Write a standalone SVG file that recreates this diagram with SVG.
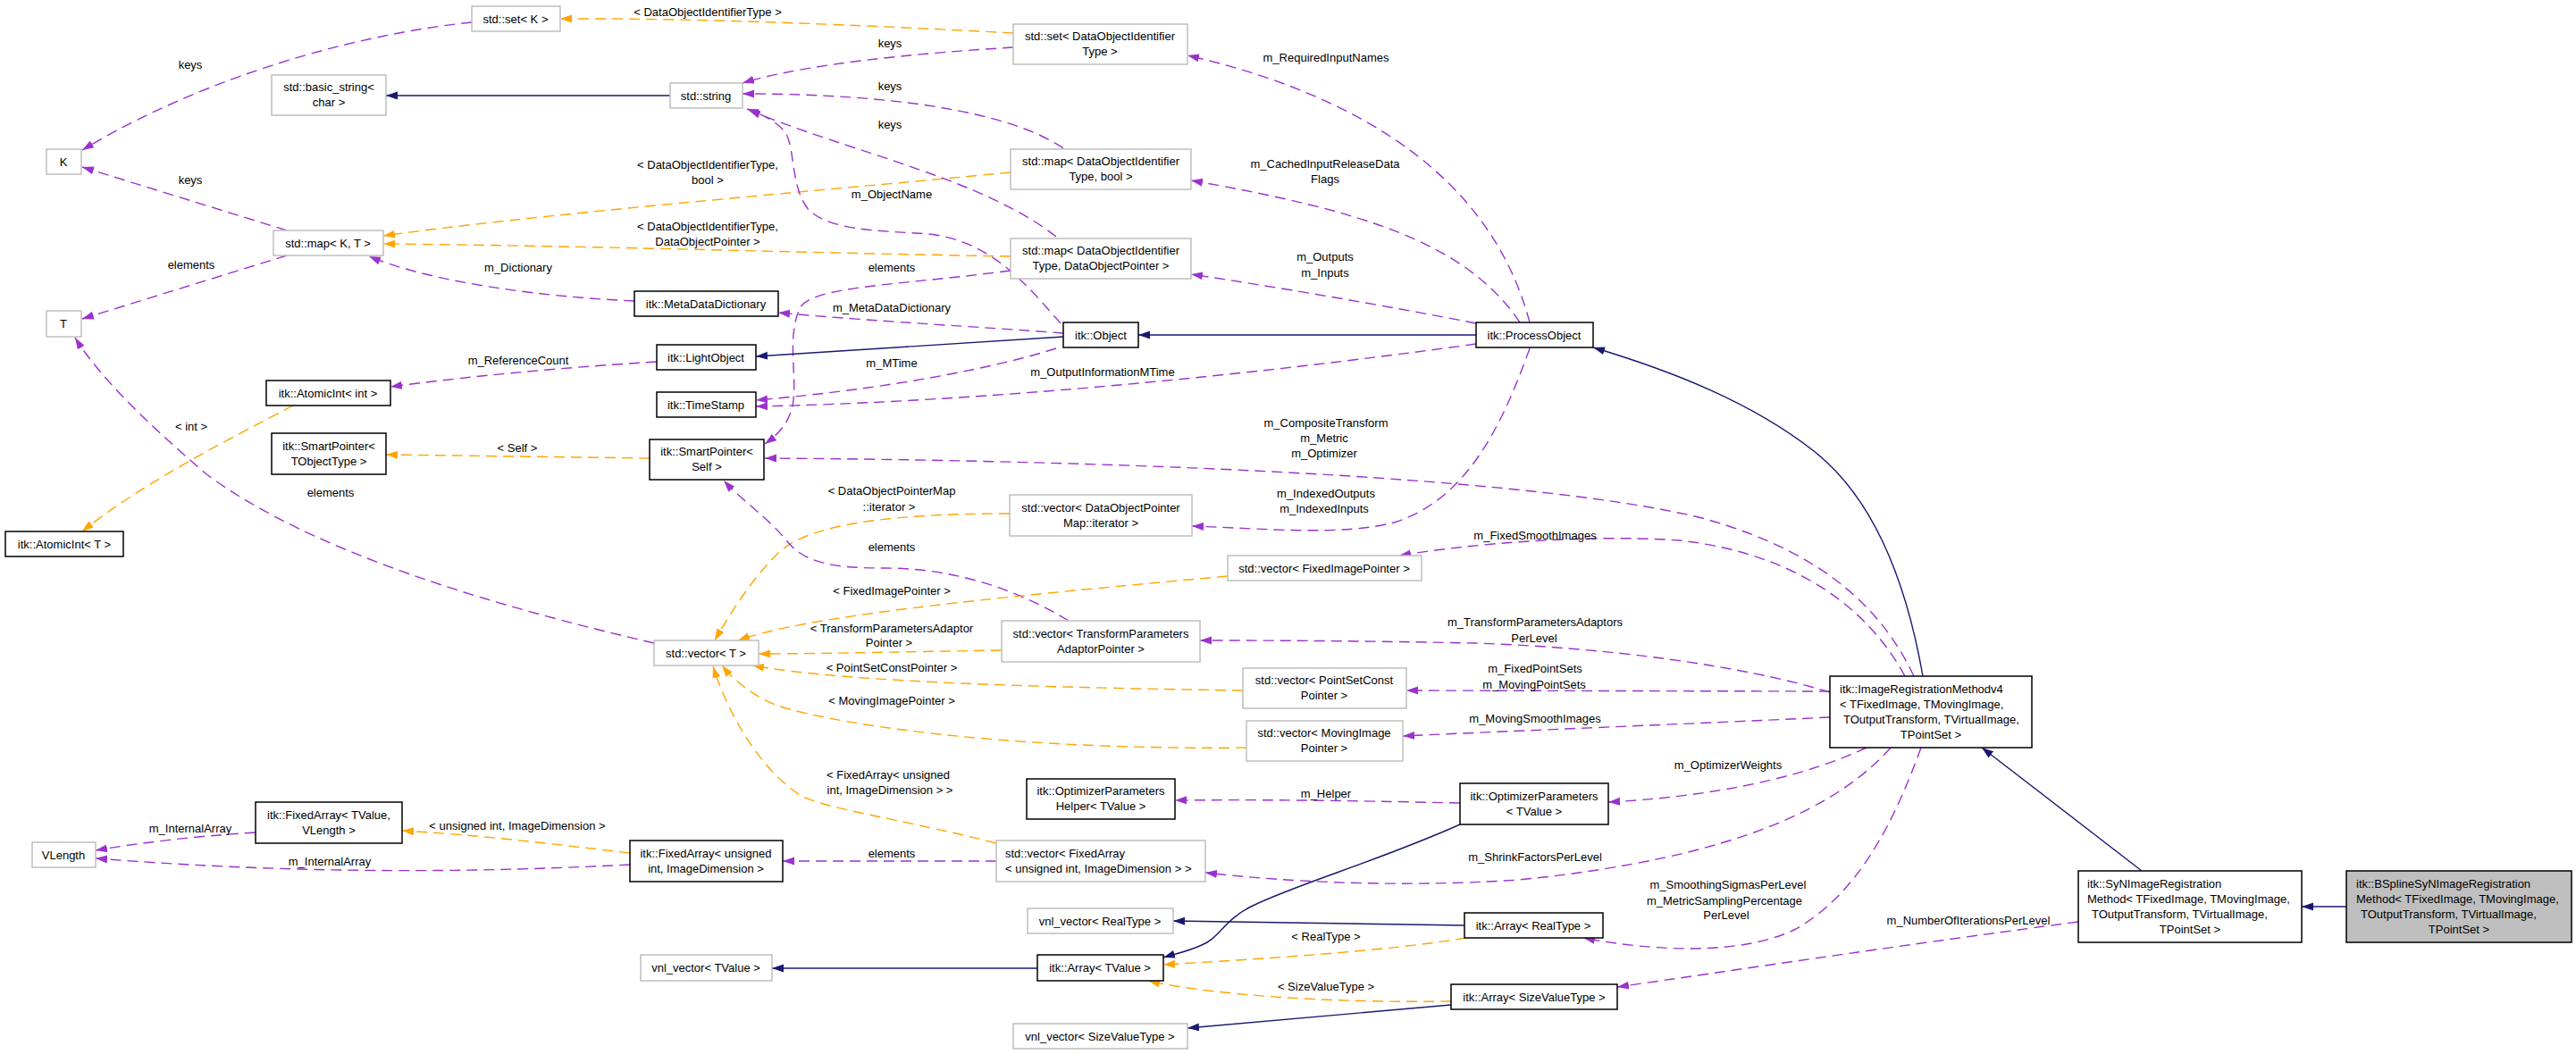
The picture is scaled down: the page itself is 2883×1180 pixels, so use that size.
<svg xmlns="http://www.w3.org/2000/svg" width="2883" height="1180" viewBox="0 0 2883 1180">
<style>
text{font-family:"Liberation Sans",Arial,Helvetica,sans-serif;font-size:13px;fill:#000}
.m{text-anchor:middle}
.s{text-anchor:start}
.n rect{fill:#fff;stroke:#000;stroke-width:1.5}
.g rect{fill:#fff;stroke:#bfbfbf;stroke-width:1.5}
.h rect{fill:#bfbfbf;stroke:#000;stroke-width:1.5}
#edges path{fill:none;stroke-width:1.4}
#edges .u{stroke:#9a32cd;stroke-dasharray:12,7;marker-end:url(#au)}
#edges .t{stroke:#ffa500;stroke-dasharray:12,7;marker-end:url(#at)}
#edges .i{stroke:#191970;marker-end:url(#ai)}
</style>
<defs>
<marker id="au" markerUnits="userSpaceOnUse" markerWidth="14" markerHeight="10" viewBox="0 0 14 10" refX="13" refY="5" orient="auto"><path d="M0,0.5 L13,5 L0,9.5 z" fill="#9a32cd" stroke="none"/></marker>
<marker id="at" markerUnits="userSpaceOnUse" markerWidth="14" markerHeight="10" viewBox="0 0 14 10" refX="13" refY="5" orient="auto"><path d="M0,0.5 L13,5 L0,9.5 z" fill="#ffa500" stroke="none"/></marker>
<marker id="ai" markerUnits="userSpaceOnUse" markerWidth="14" markerHeight="10" viewBox="0 0 14 10" refX="13" refY="5" orient="auto"><path d="M0,0.5 L13,5 L0,9.5 z" fill="#191970" stroke="none"/></marker>
</defs>
<rect width="2883" height="1180" fill="#fff"/>
<g id="edges">
<path class="u" d="M528,25 C400,38 230,85 92,168"/>
<path class="t" d="M1134,37 C1000,30 800,20 627,21"/>
<path class="u" d="M1134,53 C1020,60 900,72 831,93"/>
<path class="i" d="M750,107 L432,107"/>
<path class="u" d="M321,258 L92,187"/>
<path class="u" d="M321,286 L92,357"/>
<path class="t" d="M1131,193 C900,215 600,240 429,264"/>
<path class="t" d="M1131,287 C900,283 650,275 429,273"/>
<path class="u" d="M1190,166 C1130,125 1000,105 831,105"/>
<path class="u" d="M1182,265 C1100,200 950,170 838,123"/>
<path class="u" d="M1187,362 C1150,320 1110,270 1040,262 C980,258 930,258 905,235 C885,210 890,170 880,150 C870,135 850,127 836,122"/>
<path class="u" d="M1131,303 C1000,320 910,320 895,345 C880,380 893,420 887,455 C882,475 870,487 856,497"/>
<path class="u" d="M710,337 C600,332 480,315 413,287"/>
<path class="u" d="M1190,373 C1100,366 980,360 871,350"/>
<path class="i" d="M1190,377 L846,399"/>
<path class="u" d="M735,405 C620,412 520,422 437,433"/>
<path class="u" d="M1182,390 C1120,410 1000,435 846,448"/>
<path class="u" d="M1652,385 C1400,420 1100,450 846,455"/>
<path class="i" d="M1652,375 L1274,375"/>
<path class="u" d="M1712,361 C1680,240 1580,120 1329,62"/>
<path class="u" d="M1701,361 C1640,270 1520,235 1333,202"/>
<path class="u" d="M1652,362 C1550,342 1420,320 1333,307"/>
<path class="u" d="M1712,390 C1680,480 1640,560 1560,585 C1500,600 1420,592 1334,589"/>
<path class="t" d="M328,454 C260,490 160,540 92,595"/>
<path class="t" d="M727,513 L432,509"/>
<path class="u" d="M732,720 C560,680 350,620 230,530 C160,470 110,420 84,378"/>
<path class="u" d="M2142,757 C2110,690 2050,620 1905,580 C1700,530 1200,515 856,513"/>
<path class="t" d="M1130,575 C980,575 900,590 870,620 C840,650 815,690 800,717"/>
<path class="u" d="M1196,695 C1130,655 1060,636 990,636 C930,636 900,630 880,605 C860,580 830,560 810,538"/>
<path class="t" d="M1374,645 C1100,670 900,690 826,717"/>
<path class="t" d="M1121,728 C1000,730 900,732 849,732"/>
<path class="t" d="M1391,773 C1200,770 950,765 842,745"/>
<path class="t" d="M1395,837 C1150,840 950,815 870,790 C840,778 820,760 808,745"/>
<path class="t" d="M1115,944 C1000,915 920,905 895,890 C850,860 815,800 798,746"/>
<path class="u" d="M2132,757 C2090,680 2010,620 1880,605 C1780,598 1650,608 1566,622"/>
<path class="u" d="M2048,775 C1950,745 1800,725 1650,720 C1500,717 1400,717 1343,717"/>
<path class="u" d="M2048,774 L1574,773"/>
<path class="u" d="M2048,803 C1900,810 1700,818 1570,824"/>
<path class="u" d="M2089,837 C2040,860 1950,890 1800,898"/>
<path class="u" d="M2116,837 C2060,900 1950,960 1700,985 C1550,995 1420,985 1349,977"/>
<path class="u" d="M2150,837 C2120,920 2080,1000 2010,1040 C1950,1070 1850,1065 1772,1050"/>
<path class="u" d="M2326,1032 C2100,1062 1950,1085 1810,1105"/>
<path class="u" d="M1634,899 C1500,896 1400,895 1315,896"/>
<path class="i" d="M1634,923 C1540,965 1450,990 1400,1015 C1370,1030 1365,1050 1345,1058 C1330,1065 1315,1068 1302,1072"/>
<path class="i" d="M1639,1036 L1313,1031"/>
<path class="t" d="M1641,1050 C1550,1065 1420,1073 1302,1080"/>
<path class="t" d="M1624,1121 C1500,1123 1360,1115 1285,1098"/>
<path class="i" d="M1624,1125 L1329,1151"/>
<path class="i" d="M1161,1084 L864,1084"/>
<path class="t" d="M705,955 C620,945 540,935 450,930"/>
<path class="u" d="M286,932 C220,936 160,943 107,952"/>
<path class="u" d="M705,968 C550,976 350,980 107,961"/>
<path class="u" d="M1115,964 L876,964"/>
<path class="i" d="M2152,757 C2135,660 2100,560 2030,505 C1960,450 1870,415 1783,389"/>
<path class="i" d="M2397,975 L2218,837"/>
<path class="i" d="M2626,1015 L2576,1015"/>
<g class="m">
<text x="213" y="77">keys</text>
<text x="792" y="18">&lt; DataObjectIdentifierType &gt;</text>
<text x="996" y="53">keys</text>
<text x="996" y="101">keys</text>
<text x="996" y="144">keys</text>
<text x="213" y="206">keys</text>
<text x="214" y="301">elements</text>
<text x="792" y="189">&lt; DataObjectIdentifierType,</text>
<text x="792" y="206">bool &gt;</text>
<text x="998" y="222">m_ObjectName</text>
<text x="792" y="258">&lt; DataObjectIdentifierType,</text>
<text x="792" y="275">DataObjectPointer &gt;</text>
<text x="998" y="304">elements</text>
<text x="580" y="304">m_Dictionary</text>
<text x="998" y="349">m_MetaDataDictionary</text>
<text x="1484" y="69">m_RequiredInputNames</text>
<text x="1483" y="188">m_CachedInputReleaseData</text>
<text x="1483" y="205">Flags</text>
<text x="1483" y="292">m_Outputs</text>
<text x="1483" y="310">m_Inputs</text>
<text x="580" y="408">m_ReferenceCount</text>
<text x="998" y="411">m_MTime</text>
<text x="1234" y="421">m_OutputInformationMTime</text>
<text x="214" y="482">&lt; int &gt;</text>
<text x="579" y="506">&lt; Self &gt;</text>
<text x="370" y="556">elements</text>
<text x="1484" y="478">m_CompositeTransform</text>
<text x="1482" y="495">m_Metric</text>
<text x="1482" y="512">m_Optimizer</text>
<text x="998" y="554">&lt; DataObjectPointerMap</text>
<text x="995" y="572">::iterator &gt;</text>
<text x="1484" y="557">m_IndexedOutputs</text>
<text x="1482" y="574">m_IndexedInputs</text>
<text x="1718" y="604">m_FixedSmoothImages</text>
<text x="998" y="617">elements</text>
<text x="998" y="666">&lt; FixedImagePointer &gt;</text>
<text x="998" y="708">&lt; TransformParametersAdaptor</text>
<text x="995" y="724">Pointer &gt;</text>
<text x="1718" y="701">m_TransformParametersAdaptors</text>
<text x="1717" y="719">PerLevel</text>
<text x="998" y="752">&lt; PointSetConstPointer &gt;</text>
<text x="1718" y="753">m_FixedPointSets</text>
<text x="1717" y="771">m_MovingPointSets</text>
<text x="998" y="789">&lt; MovingImagePointer &gt;</text>
<text x="1718" y="809">m_MovingSmoothImages</text>
<text x="1934" y="861">m_OptimizerWeights</text>
<text x="994" y="872">&lt; FixedArray&lt; unsigned</text>
<text x="996" y="889">int, ImageDimension &gt; &gt;</text>
<text x="1484" y="893">m_Helper</text>
<text x="579" y="929">&lt; unsigned int, ImageDimension &gt;</text>
<text x="213" y="932">m_InternalArray</text>
<text x="998" y="960">elements</text>
<text x="1718" y="964">m_ShrinkFactorsPerLevel</text>
<text x="369" y="969">m_InternalArray</text>
<text x="1934" y="995">m_SmoothingSigmasPerLevel</text>
<text x="1930" y="1013">m_MetricSamplingPercentage</text>
<text x="1932" y="1029">PerLevel</text>
<text x="2203" y="1035">m_NumberOfIterationsPerLevel</text>
<text x="1484" y="1053">&lt; RealType &gt;</text>
<text x="1484" y="1109">&lt; SizeValueType &gt;</text>
</g>
</g>
<g id="n_setK" class="g"><rect x="528" y="7" width="99" height="28"/><text class="m" x="577" y="26">std::set&lt; K &gt;</text></g>
<g id="n_basic_string" class="g"><rect x="304" y="84" width="128" height="45"/><text class="m" x="368" y="102">std::basic_string&lt;</text><text class="m" x="368" y="119">char &gt;</text></g>
<g id="n_K" class="g"><rect x="52" y="167" width="39" height="28"/><text class="m" x="71" y="186">K</text></g>
<g id="n_mapKT" class="g"><rect x="306" y="258" width="123" height="28"/><text class="m" x="367" y="277">std::map&lt; K, T &gt;</text></g>
<g id="n_T" class="g"><rect x="52" y="348" width="39" height="29"/><text class="m" x="71" y="367">T</text></g>
<g id="n_setDOIT" class="g"><rect x="1134" y="27" width="195" height="45"/><text class="m" x="1231" y="45">std::set&lt; DataObjectIdentifier</text><text class="m" x="1231" y="62">Type &gt;</text></g>
<g id="n_string" class="g"><rect x="750" y="93" width="81" height="28"/><text class="m" x="790" y="112">std::string</text></g>
<g id="n_mapBool" class="g"><rect x="1131" y="167" width="202" height="45"/><text class="m" x="1232" y="185">std::map&lt; DataObjectIdentifier</text><text class="m" x="1232" y="202">Type, bool &gt;</text></g>
<g id="n_mapDOP" class="g"><rect x="1131" y="267" width="202" height="45"/><text class="m" x="1232" y="285">std::map&lt; DataObjectIdentifier</text><text class="m" x="1232" y="302">Type, DataObjectPointer &gt;</text></g>
<g id="n_MetaDataDictionary" class="n"><rect x="710" y="326" width="161" height="28"/><text class="m" x="790" y="345">itk::MetaDataDictionary</text></g>
<g id="n_Object" class="n"><rect x="1190" y="361" width="84" height="28"/><text class="m" x="1232" y="380">itk::Object</text></g>
<g id="n_LightObject" class="n"><rect x="735" y="386" width="111" height="28"/><text class="m" x="790" y="405">itk::LightObject</text></g>
<g id="n_ProcessObject" class="n"><rect x="1652" y="361" width="131" height="28"/><text class="m" x="1717" y="380">itk::ProcessObject</text></g>
<g id="n_AtomicIntInt" class="n"><rect x="298" y="426" width="139" height="28"/><text class="m" x="367" y="445">itk::AtomicInt&lt; int &gt;</text></g>
<g id="n_SmartPointerT" class="n"><rect x="304" y="485" width="128" height="46"/><text class="m" x="368" y="504">itk::SmartPointer&lt;</text><text class="m" x="368" y="521">TObjectType &gt;</text></g>
<g id="n_AtomicIntT" class="n"><rect x="6" y="595" width="132" height="28"/><text class="m" x="72" y="614">itk::AtomicInt&lt; T &gt;</text></g>
<g id="n_TimeStamp" class="n"><rect x="735" y="439" width="111" height="28"/><text class="m" x="790" y="458">itk::TimeStamp</text></g>
<g id="n_SmartPointerSelf" class="n"><rect x="727" y="492" width="128" height="45"/><text class="m" x="791" y="510">itk::SmartPointer&lt;</text><text class="m" x="791" y="527">Self &gt;</text></g>
<g id="n_vecDOPMap" class="g"><rect x="1130" y="554" width="204" height="46"/><text class="m" x="1232" y="573">std::vector&lt; DataObjectPointer</text><text class="m" x="1232" y="590">Map::iterator &gt;</text></g>
<g id="n_vecT" class="g"><rect x="732" y="717" width="117" height="28"/><text class="m" x="790" y="736">std::vector&lt; T &gt;</text></g>
<g id="n_vecTPA" class="g"><rect x="1121" y="695" width="222" height="46"/><text class="m" x="1232" y="714">std::vector&lt; TransformParameters</text><text class="m" x="1232" y="731">AdaptorPointer &gt;</text></g>
<g id="n_vecFIP" class="g"><rect x="1374" y="622" width="217" height="28"/><text class="m" x="1482" y="641">std::vector&lt; FixedImagePointer &gt;</text></g>
<g id="n_vecPSCP" class="g"><rect x="1391" y="748" width="183" height="45"/><text class="m" x="1482" y="766">std::vector&lt; PointSetConst</text><text class="m" x="1482" y="783">Pointer &gt;</text></g>
<g id="n_vecMIP" class="g"><rect x="1395" y="807" width="175" height="45"/><text class="m" x="1482" y="825">std::vector&lt; MovingImage</text><text class="m" x="1482" y="842">Pointer &gt;</text></g>
<g id="n_IRMv4" class="n"><rect x="2048" y="757" width="226" height="80"/><text class="s" x="2059" y="776">itk::ImageRegistrationMethodv4</text><text class="s" x="2059" y="793">&lt; TFixedImage, TMovingImage,</text><text class="s" x="2063" y="810">TOutputTransform, TVirtualImage,</text><text class="m" x="2161" y="827">TPointSet &gt;</text></g>
<g id="n_OPHelper" class="n"><rect x="1149" y="872" width="166" height="45"/><text class="m" x="1232" y="890">itk::OptimizerParameters</text><text class="m" x="1232" y="907">Helper&lt; TValue &gt;</text></g>
<g id="n_OP" class="n"><rect x="1634" y="877" width="166" height="46"/><text class="m" x="1717" y="896">itk::OptimizerParameters</text><text class="m" x="1717" y="913">&lt; TValue &gt;</text></g>
<g id="n_FATValue" class="n"><rect x="286" y="898" width="164" height="46"/><text class="m" x="368" y="917">itk::FixedArray&lt; TValue,</text><text class="m" x="368" y="934">VLength &gt;</text></g>
<g id="n_VLength" class="g"><rect x="36" y="943" width="71" height="28"/><text class="m" x="71" y="962">VLength</text></g>
<g id="n_FAuint" class="n"><rect x="705" y="941" width="171" height="46"/><text class="m" x="790" y="960">itk::FixedArray&lt; unsigned</text><text class="m" x="790" y="977">int, ImageDimension &gt;</text></g>
<g id="n_vecFA" class="g"><rect x="1115" y="941" width="234" height="46"/><text class="s" x="1125" y="960">std::vector&lt; FixedArray</text><text class="s" x="1125" y="977">&lt; unsigned int, ImageDimension &gt; &gt;</text></g>
<g id="n_vnlReal" class="g"><rect x="1150" y="1017" width="163" height="28"/><text class="m" x="1231" y="1036">vnl_vector&lt; RealType &gt;</text></g>
<g id="n_vnlTValue" class="g"><rect x="717" y="1069" width="147" height="29"/><text class="m" x="790" y="1088">vnl_vector&lt; TValue &gt;</text></g>
<g id="n_ArrayTValue" class="n"><rect x="1161" y="1069" width="141" height="29"/><text class="m" x="1231" y="1088">itk::Array&lt; TValue &gt;</text></g>
<g id="n_vnlSize" class="g"><rect x="1134" y="1146" width="195" height="28"/><text class="m" x="1231" y="1165">vnl_vector&lt; SizeValueType &gt;</text></g>
<g id="n_ArrayReal" class="n"><rect x="1639" y="1022" width="155" height="28"/><text class="m" x="1716" y="1041">itk::Array&lt; RealType &gt;</text></g>
<g id="n_ArraySize" class="n"><rect x="1624" y="1102" width="186" height="28"/><text class="m" x="1717" y="1121">itk::Array&lt; SizeValueType &gt;</text></g>
<g id="n_SyN" class="n"><rect x="2326" y="975" width="250" height="80"/><text class="s" x="2336" y="994">itk::SyNImageRegistration</text><text class="s" x="2336" y="1011">Method&lt; TFixedImage, TMovingImage,</text><text class="s" x="2341" y="1028">TOutputTransform, TVirtualImage,</text><text class="m" x="2451" y="1045">TPointSet &gt;</text></g>
<g id="n_BSplineSyN" class="h"><rect x="2626" y="975" width="252" height="80"/><text class="s" x="2637" y="994">itk::BSplineSyNImageRegistration</text><text class="s" x="2637" y="1011">Method&lt; TFixedImage, TMovingImage,</text><text class="s" x="2642" y="1028">TOutputTransform, TVirtualImage,</text><text class="m" x="2752" y="1045">TPointSet &gt;</text></g>
</svg>
